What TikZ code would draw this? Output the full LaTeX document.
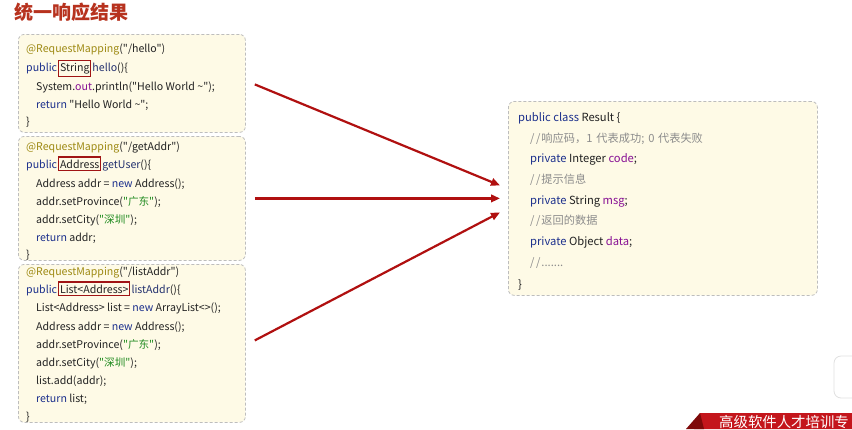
\documentclass[tikz,border=0pt]{standalone}
\usepackage{fontspec}
\newfontfamily\cjk{Noto Sans CJK SC}
\usetikzlibrary{arrows.meta,calc}
\definecolor{kw}{HTML}{1B2F8C}
\definecolor{mth}{HTML}{22306E}
\definecolor{ann}{HTML}{9E8A14}
\definecolor{strg}{HTML}{1E8A1E}
\definecolor{pur}{HTML}{871094}
\definecolor{cmt}{HTML}{8C8C8C}
\definecolor{txt}{HTML}{222222}
\definecolor{tred}{HTML}{A01414}
\definecolor{arrred}{HTML}{B01010}
\definecolor{boxfill}{HTML}{FEFAE6}
\definecolor{boxline}{HTML}{BDBDBD}
\definecolor{titlered}{HTML}{B7321E}
\definecolor{bannerred}{HTML}{C4161C}
\definecolor{bannerdark}{HTML}{7E0A0A}
\newcommand{\slsl}{/\kern1.5pt/\kern1pt}
\begin{document}
\begin{tikzpicture}[x=1pt,y=-1pt,
  codebox/.style={draw=boxline, dash pattern=on 3pt off 2pt, fill=boxfill, rounded corners=6pt, line width=0.8pt, inner sep=0pt},
  ln/.style={anchor=base west, inner sep=0pt, font=\cjk\fontsize{10.6}{12}\selectfont, text=txt},
  rln/.style={anchor=base west, inner sep=0pt, font=\cjk\fontsize{11.2}{13}\selectfont, text=txt},
  tbox/.style={draw=tred, line width=1.1pt, inner xsep=1.2pt, inner ysep=2.6pt, anchor=base west, font=\cjk\fontsize{10.6}{12}\selectfont, text=txt},
  flow/.style={draw=arrred, line width=2.2pt, -{Triangle[length=9pt,width=7.5pt]}}]
\useasboundingbox (0,0) rectangle (852,429);
\fill[white] (0,0) rectangle (852,429);

% title
\node[anchor=base west, inner sep=0pt, text=titlered, font=\cjk\fontsize{19}{20}\selectfont\bfseries] (title) at (14,19) {统一响应结果};

% boxes
\node[codebox, minimum width=227, minimum height=98, anchor=north west] (b1) at (18,34) {};
\node[codebox, minimum width=227, minimum height=124, anchor=north west] (b2) at (18,136) {};
\node[codebox, minimum width=227, minimum height=158, anchor=north west] (b3) at (18,264) {};
\node[codebox, minimum width=309, minimum height=194, anchor=north west] (res) at (508,101) {};

% box 1
\node[ln] (a1) at (26,52) {\textcolor{ann}{@RequestMapping}("/hello")};
\node[ln] (a2p) at (26,71) {\textcolor{kw}{public}};
\node[tbox] (a2t) at ($(a2p.base east)+(1,0)$) {String};
\node[ln] (a2r) at ($(a2t.base east)+(1,0)$) {\textcolor{mth}{hello}()\{};
\node[ln] (a3) at (36,90) {System.\textcolor{pur}{\itshape out}.println("Hello World \textasciitilde");};
\node[ln] (a4) at (36,108) {\textcolor{kw}{return} "Hello World \textasciitilde";};
\node[ln] (a5) at (26,125) {\}};

% box 2
\node[ln] (c1) at (26,150) {\textcolor{ann}{@RequestMapping}("/getAddr")};
\node[ln] (c2p) at (26,168) {\textcolor{kw}{public}};
\node[tbox] (c2t) at ($(c2p.base east)+(1,0)$) {Address};
\node[ln] (c2r) at ($(c2t.base east)+(1,0)$) {\textcolor{mth}{getUser}()\{};
\node[ln] (c3) at (36,187) {Address addr = \textcolor{kw}{new} Address();};
\node[ln] (c4) at (36,205) {addr.setProvince(\textcolor{strg}{"广东"});};
\node[ln] (c5) at (36,223) {addr.setCity(\textcolor{strg}{"深圳"});};
\node[ln] (c6) at (36,241) {\textcolor{kw}{return} addr;};
\node[ln] (c7) at (26,258) {\}};

% box 3
\node[ln] (d1) at (26,275) {\textcolor{ann}{@RequestMapping}("/listAddr")};
\node[ln] (d2p) at (26,293) {\textcolor{kw}{public}};
\node[tbox] (d2t) at ($(d2p.base east)+(1,0)$) {List<Address>};
\node[ln] (d2r) at ($(d2t.base east)+(1,0)$) {\textcolor{mth}{listAddr}()\{};
\node[ln] (d3) at (36,311) {List<Address> list = \textcolor{kw}{new} ArrayList<>();};
\node[ln] (d4) at (36,330) {Address addr = \textcolor{kw}{new} Address();};
\node[ln] (d5) at (36,348) {addr.setProvince(\textcolor{strg}{"广东"});};
\node[ln] (d6) at (36,366) {addr.setCity(\textcolor{strg}{"深圳"});};
\node[ln] (d7) at (36,384) {list.add(addr);};
\node[ln] (d8) at (36,402) {\textcolor{kw}{return} list;};
\node[ln] (d9) at (26,420) {\}};

% result box
\node[rln] (r1) at (518,121) {\textcolor{kw}{public class} Result \{};
\node[rln, text=cmt] (r2) at (530,142) {\slsl 响应码，1\hspace{4pt}代表成功;\hspace{4pt}0\hspace{3.5pt}代表失败};
\node[rln] (r3) at (530,162) {\textcolor{kw}{private} Integer \textcolor{pur}{code};};
\node[rln, text=cmt] (r4) at (530,183) {\slsl 提示信息};
\node[rln] (r5) at (530,204) {\textcolor{kw}{private} String \textcolor{pur}{msg};};
\node[rln, text=cmt] (r6) at (530,224) {\slsl 返回的数据};
\node[rln] (r7) at (530,245) {\textcolor{kw}{private} Object \textcolor{pur}{data};};
\node[rln, text=cmt] (r8) at (530,266) {\slsl .......};
\node[rln] (r9) at (518,288) {\}};

% arrows
\draw[flow] ($(b1.east)+(9,1)$) -- ($(res.west)+(-8,-13)$);
\draw[flow] ($(b2.east)+(9,0)$) -- ($(res.west)+(-8,0)$);
\draw[flow] ($(b3.east)+(9,-3)$) -- ($(res.west)+(-8,14)$);

% banner and corner icon
\draw[draw=black!12, fill=white, rounded corners=7pt, line width=0.8pt] (834,356) rectangle (870,398);
\fill[bannerred] (700,413) -- (852,413) -- (852,429) -- (694,429) -- cycle;
\fill[bannerdark] (686,429) -- (700,413) -- (704,429) -- cycle;
\node[anchor=base west, inner sep=0pt, text=white, font=\cjk\fontsize{14.4}{15}\selectfont] (banner) at (719,427) {高级软件人才培训专};
\end{tikzpicture}
\end{document}
